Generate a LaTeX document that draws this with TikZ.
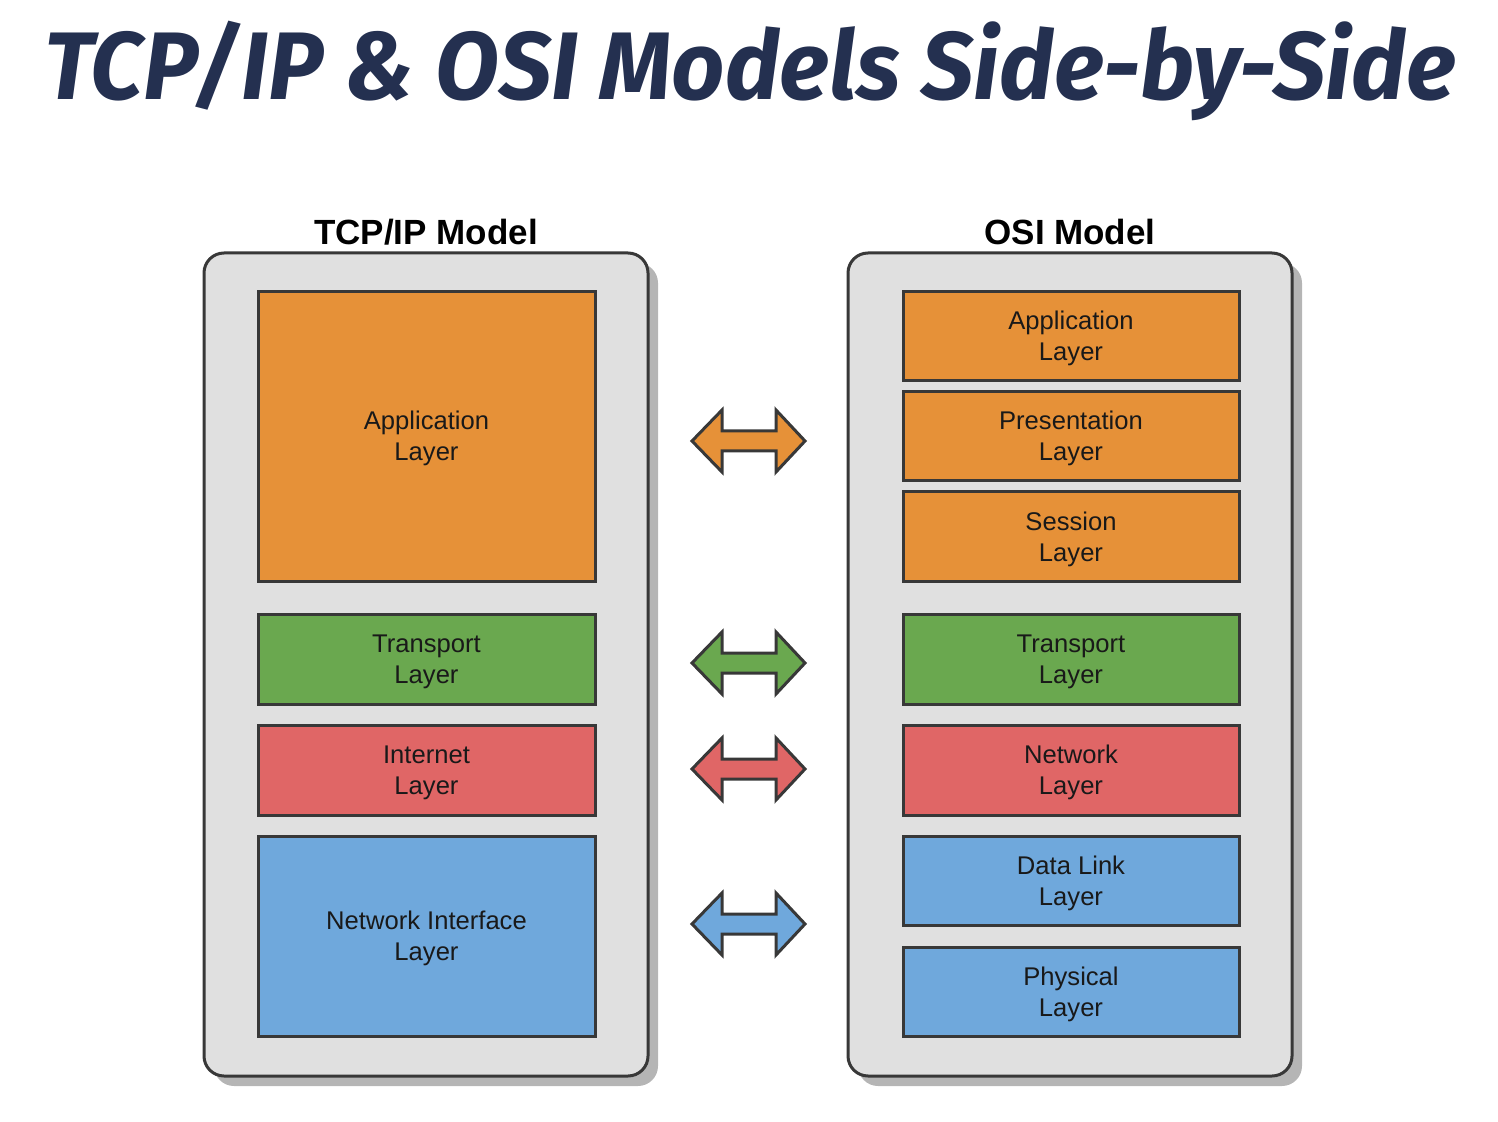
\documentclass[tikz,border=0pt]{standalone}
\usepackage{fontspec}
\setmainfont{Liberation Sans}
\newfontfamily\titlefont{Fira Sans}
\usepackage{tikz}
\usetikzlibrary{positioning}
\usepackage{xcolor}

\definecolor{appOrange}{HTML}{E69138}
\definecolor{tptGreen}{HTML}{6AA84F}
\definecolor{netRed}{HTML}{E06666}
\definecolor{linkBlue}{HTML}{6FA8DC}
\definecolor{boxGrey}{HTML}{E0E0E0}
\definecolor{shadowGrey}{HTML}{B5B5B5}
\definecolor{edgeGrey}{HTML}{383838}
\definecolor{titleNavy}{HTML}{243050}

\tikzset{
  stack/.style={draw=edgeGrey, line width=1.5pt, fill=boxGrey, rounded corners=10pt},
  stackshadow/.style={fill=shadowGrey, rounded corners=10pt},
  layer/.style={draw=edgeGrey, line width=1.5pt, align=center, font=\fontsize{12.8}{15.5}\selectfont, text=black!90, inner sep=0pt, text height=26.5pt, text depth=2pt},
  leftlayer/.style={layer, minimum width=168.5pt},
  rightlayer/.style={layer, minimum width=168pt},
  heading/.style={font=\fontsize{17.5}{20}\selectfont\bfseries, anchor=base},
  arrowbox/.style={draw=edgeGrey, line width=1.5pt, line join=miter},
}

% block arrow between the two stacks: #1 = y, #2 = colour
\newcommand\swaparrow[2]{%
  \draw[arrowbox, fill=#2] (692,#1) -- (722,#1-31) -- (722,#1-10) -- (776,#1-10) -- (776,#1-31) -- (805,#1) -- (776,#1+31) -- (776,#1+10) -- (722,#1+10) -- (722,#1+31) -- cycle ;}

\begin{document}
\begin{tikzpicture}[x=0.5pt,y=0.5pt,yscale=-1,xscale=1]
\useasboundingbox (0,0) rectangle (1498,1122);

% Title
\node[anchor=base, text=titleNavy, xscale=0.97, font=\titlefont\fontsize{48}{54}\selectfont\bfseries\itshape] (title) at (750,100) {TCP/IP \& OSI Models Side-by-Side};

%Shape: Rounded Rectangle (left stack)
\fill[stackshadow] (214,263) rectangle (658,1086) ;
\draw[stack] (204,253) rectangle (648,1076) ;
%Shape: Rounded Rectangle (right stack)
\fill[stackshadow] (858,263) rectangle (1302,1086) ;
\draw[stack] (848,253) rectangle (1292,1076) ;

% Headings
\node[heading] (tcphead) at (426,245) {TCP/IP Model};
\node[heading] (osihead) at (1070,245) {OSI Model};

% TCP/IP layers
\node[leftlayer, fill=appOrange, minimum height=144.5pt] (lapp) at (426.5,436.5) {Application\\Layer};
\node[leftlayer, fill=tptGreen, minimum height=45pt] (ltpt) at (426.5,659) {Transport\\Layer};
\node[leftlayer, fill=netRed, minimum height=45pt] (lnet) at (426.5,770) {Internet\\Layer};
\node[leftlayer, fill=linkBlue, minimum height=100pt] (lif) at (426.5,936) {Network Interface\\Layer};

% OSI layers
\node[rightlayer, fill=appOrange, minimum height=44.5pt] (rapp) at (1071,336.5) {Application\\Layer};
\node[rightlayer, fill=appOrange, minimum height=44.5pt] (rpres) at (1071,436.5) {Presentation\\Layer};
\node[rightlayer, fill=appOrange, minimum height=44.5pt] (rses) at (1071,536.5) {Session\\Layer};
\node[rightlayer, fill=tptGreen, minimum height=45pt] (rtpt) at (1071,659) {Transport\\Layer};
\node[rightlayer, fill=netRed, minimum height=45pt] (rnet) at (1071,770) {Network\\Layer};
\node[rightlayer, fill=linkBlue, minimum height=44.5pt] (rlink) at (1071,880.5) {Data Link\\Layer};
\node[rightlayer, fill=linkBlue, minimum height=44.5pt] (rphy) at (1071,991.5) {Physical\\Layer};

% Arrows
\swaparrow{441}{appOrange}
\swaparrow{663}{tptGreen}
\swaparrow{769}{netRed}
\swaparrow{924}{linkBlue}

\end{tikzpicture}
\end{document}
